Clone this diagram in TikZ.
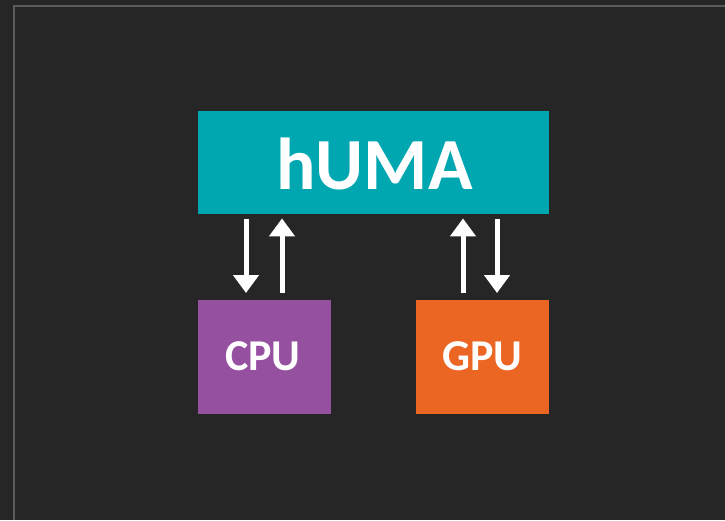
\documentclass[tikz,border=0pt]{standalone}
\usepackage{fontspec}
\setmainfont{Carlito}
\usetikzlibrary{arrows.meta}
\definecolor{bg}{HTML}{262626}
\definecolor{frame}{HTML}{5A5A5A}
\definecolor{teal}{HTML}{00A7B1}
\definecolor{purp}{HTML}{9550A0}
\definecolor{oran}{HTML}{EB6523}
\tikzset{
  box/.style={draw=none, inner sep=0pt, anchor=north west, text=white, font=\bfseries},
  lbl/.style={text=white, anchor=base, inner sep=0pt},
  arr/.style={draw=white, line width=5pt, -{Triangle[width=25pt,length=18pt]}},
}
\begin{document}
\begin{tikzpicture}[x=1pt,y=-1pt]
\fill[bg] (0,0) rectangle (725,520);
\useasboundingbox (0,0) rectangle (725,520);
\draw[frame, line width=2.2pt] (14,520) -- (14,6) -- (725,6);
\node[box, fill=teal, minimum width=351pt, minimum height=103pt] (huma) at (198,111) {};
\node[lbl, font=\bfseries\fontsize{73.5}{74}\selectfont] (humat) at (374.5,189) {hUMA};
\node[box, fill=purp, minimum width=133pt, minimum height=114pt] (cpu) at (198,300) {};
\node[lbl, font=\bfseries\fontsize{44}{44}\selectfont] (cput) at (263,370.5) {CPU};
\node[box, fill=oran, minimum width=133pt, minimum height=114pt] (gpu) at (416,300) {};
\node[lbl, font=\bfseries\fontsize{44}{44}\selectfont] (gput) at (482.5,370.5) {GPU};
% arrows
\coordinate (a1s) at ([xshift=48pt,yshift=-5pt]huma.south west);
\coordinate (a1e) at ([xshift=48pt,yshift=7pt]cpu.north west);
\coordinate (a2s) at ([xshift=84pt,yshift=7pt]cpu.north west);
\coordinate (a2e) at ([xshift=84pt,yshift=-4pt]huma.south west);
\coordinate (a3s) at ([xshift=47pt,yshift=7pt]gpu.north west);
\coordinate (a3e) at ([xshift=265pt,yshift=-4pt]huma.south west);
\coordinate (a4s) at ([xshift=299pt,yshift=-5pt]huma.south west);
\coordinate (a4e) at ([xshift=81pt,yshift=7pt]gpu.north west);
\draw[arr] (a1s) -- (a1e);
\draw[arr] (a2s) -- (a2e);
\draw[arr] (a3s) -- (a3e);
\draw[arr] (a4s) -- (a4e);
\end{tikzpicture}
\end{document}
